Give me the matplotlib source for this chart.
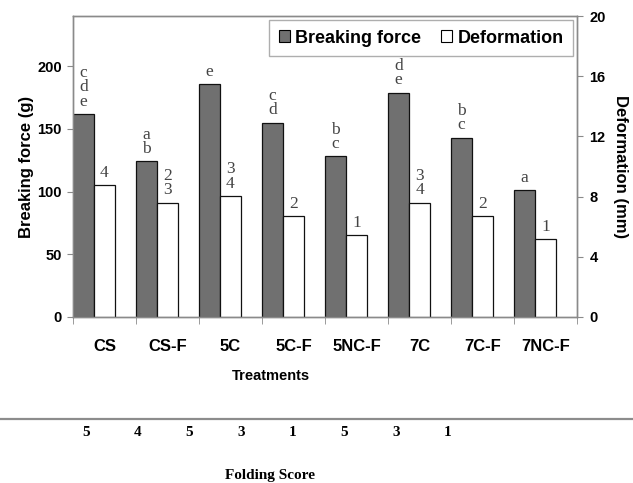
import numpy as np
import matplotlib
matplotlib.use('Agg')
from matplotlib import pyplot as plt
from matplotlib.patches import Patch
from matplotlib.lines import Line2D

treatments = ['CS', 'CS-F', '5C', '5C-F', '5NC-F', '7C', '7C-F', '7NC-F']
breaking_force = [162, 124, 186, 155, 128, 179, 143, 101]
deformation = [8.75, 7.6, 8.05, 6.7, 5.45, 7.6, 6.7, 5.15]
force_letters = ['c\nd\ne', 'a\nb', 'e', 'c\nd', 'b\nc', 'd\ne', 'b\nc', 'a']
deform_letters = ['4', '2\n3', '3\n4', '2', '1', '3\n4', '2', '1']
folding_score = [5, 4, 5, 3, 1, 5, 3, 1]

sans = 'Liberation Sans'
serif = 'Liberation Serif'
dark = '#707070'
axis_grey = '#8a8a8a'

fig = plt.figure(figsize=(6.33, 4.83), dpi=100)
ax = fig.add_axes([73/633, 1 - 317/483, 504/633, 301/483])
ax2 = ax.twinx()

x = np.arange(len(treatments))
w = 1/3
ax.bar(x - w, breaking_force, width=w, color=dark, edgecolor='#111111', linewidth=0.9, zorder=2)
ax2.bar(x, deformation, width=w, color='white', edgecolor='#111111', linewidth=0.9, zorder=2)

# significance letters stacked above each bar
for i in range(len(x)):
    ax.annotate(force_letters[i], (x[i] - w, breaking_force[i]), xytext=(0, 3),
                textcoords='offset points', ha='center', va='bottom',
                fontfamily=serif, fontsize=12.5, color='#444444', linespacing=0.85)
    ax2.annotate(deform_letters[i], (x[i], deformation[i]), xytext=(0, 3),
                 textcoords='offset points', ha='center', va='bottom',
                 fontfamily=serif, fontsize=12.5, color='#444444', linespacing=0.85)

ax.set_xlim(-0.5, len(x) - 0.5)
ax.set_ylim(0, 240)
ax2.set_ylim(0, 20)
ax.set_yticks([0, 50, 100, 150, 200])
ax2.set_yticks([0, 4, 8, 12, 16, 20])

ax.set_xticks(x)
ax.set_xticklabels(treatments, fontfamily=sans, fontweight='bold', fontsize=12)
ax.set_xticks(np.arange(len(x) + 1) - 0.5, minor=True)
ax.tick_params(axis='x', which='major', length=0, pad=16)
ax.tick_params(axis='x', which='minor', length=5, color=axis_grey)
ax.tick_params(axis='y', length=4, color=axis_grey, pad=4)
ax2.tick_params(axis='y', length=4, color=axis_grey, pad=5)

for lab in ax.get_yticklabels() + ax2.get_yticklabels():
    lab.set_fontfamily(sans)
    lab.set_fontweight('bold')
    lab.set_fontsize(10.5)

for a in (ax, ax2):
    for sp in a.spines.values():
        sp.set_color(axis_grey)
        sp.set_linewidth(1.0)

ax.set_ylabel('Breaking force (g)', fontfamily=sans, fontweight='bold', fontsize=12, labelpad=2)
ax2.set_ylabel('Deformation (mm)', fontfamily=sans, fontweight='bold', fontsize=12,
               rotation=270, labelpad=16)

handles = [Patch(facecolor=dark, edgecolor='black', linewidth=0.8, label='Breaking force'),
           Patch(facecolor='white', edgecolor='black', linewidth=0.8, label='Deformation')]
leg = ax2.legend(handles=handles, loc='upper right', ncol=2, fancybox=False,
                 borderaxespad=0.2, handlelength=0.6, handleheight=0.6,
                 handletextpad=0.3, columnspacing=1.1, borderpad=0.55,
                 prop={'family': sans, 'weight': 'bold', 'size': 13})
leg.get_frame().set_edgecolor('#9a9a9a')
leg.get_frame().set_linewidth(1.0)

fig.text(271/633, 1 - 376/483, 'Treatments', ha='center', va='center',
         fontfamily=sans, fontweight='bold', fontsize=10.5)

# folding score row under the separator line
fig.add_artist(Line2D([0, 1], [1 - 419/483, 1 - 419/483], color='#8c8c8c', linewidth=1.6))
score_x = np.linspace(86, 448, len(folding_score)) / 633
for sx, s in zip(score_x, folding_score):
    fig.text(sx, 1 - 433/483, str(s), ha='center', va='center',
             fontfamily=serif, fontweight='bold', fontsize=11)
fig.text(270/633, 1 - 475/483, 'Folding Score', ha='center', va='center',
         fontfamily=serif, fontweight='bold', fontsize=11)

fig.savefig('out.png', dpi=100)
